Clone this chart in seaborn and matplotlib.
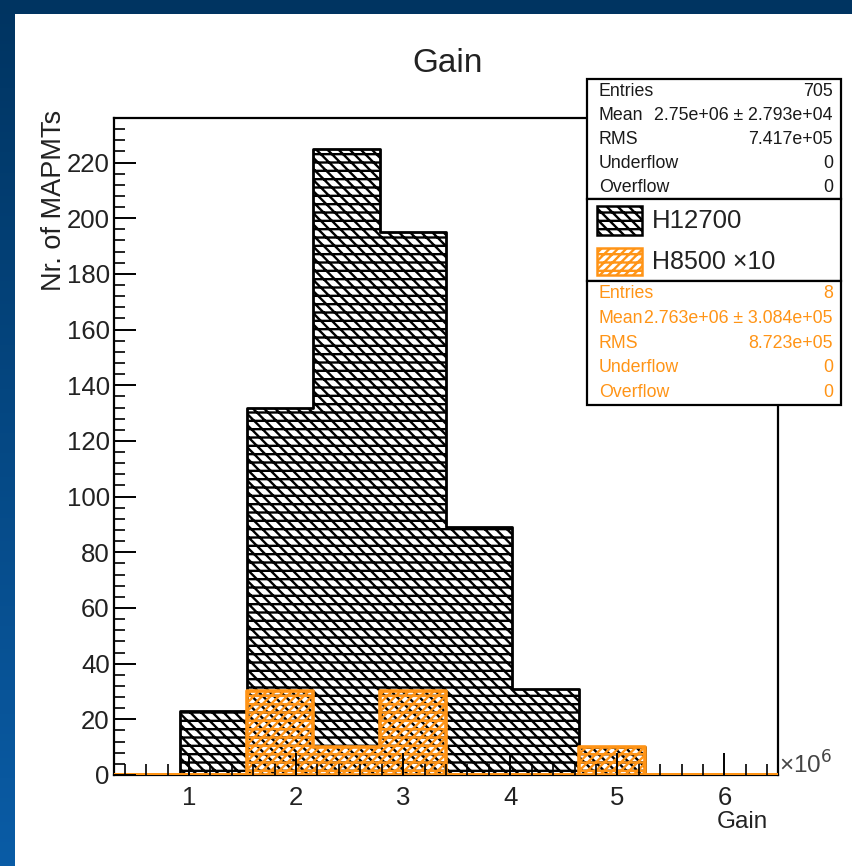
import numpy as np
import pandas as pd
import seaborn as sns
import matplotlib.pyplot as plt
from matplotlib.patches import Rectangle
from matplotlib.ticker import MultipleLocator
from matplotlib.colors import LinearSegmentedColormap

# ---- data (gain in units of 10^6) ----
bin_edges = [0.30, 0.92, 1.54, 2.16, 2.78, 3.40, 4.02, 4.64, 5.26, 5.88, 6.50]
h12700_counts = [0, 23, 132, 225, 195, 89, 31, 10, 0, 0]
h8500_counts = [0, 0, 3, 1, 3, 0, 0, 1, 0, 0]
h8500_scale = 10

y_ticks = [0, 20, 40, 60, 80, 100, 120, 140, 160, 180, 200, 220]
x_ticks = [1, 2, 3, 4, 5, 6]

h12700_stats = [("Entries", None), ("Mean", "2.75e+06 \u00b1 2.793e+04"),
                ("RMS", "7.417e+05"), ("Underflow", "0"), ("Overflow", "0")]
h8500_stats = [("Entries", None), ("Mean", "2.763e+06 \u00b1 3.084e+05"),
               ("RMS", "8.723e+05"), ("Underflow", "0"), ("Overflow", "0")]

ORANGE = "#ff9416"
BLACK_HATCH = r"\\\--"
ORANGE_HATCH = r"////--"

sns.set_style("ticks")
plt.rcParams["font.family"] = ["Liberation Sans", "DejaVu Sans"]
plt.rcParams["hatch.linewidth"] = 1.7
plt.rcParams["xtick.minor.visible"] = True
plt.rcParams["ytick.minor.visible"] = True

centers = [(a + b) / 2 for a, b in zip(bin_edges[:-1], bin_edges[1:])]
df = pd.DataFrame({
    "gain": centers + centers,
    "count": h12700_counts + [c * h8500_scale for c in h8500_counts],
    "tube": ["H12700"] * len(centers) + ["H8500"] * len(centers),
})

W, H = 852, 866
fig = plt.figure(figsize=(W / 100, H / 100), dpi=100)

# blue slide background with white canvas
bg = fig.add_axes([0, 0, 1, 1], zorder=0)
grad = np.linspace(0, 1, 256).reshape(-1, 1)
cmap = LinearSegmentedColormap.from_list("slide", ["#003461", "#0a5ca6"])
bg.imshow(grad, aspect="auto", cmap=cmap, extent=[0, W, H, 0])
bg.add_patch(Rectangle((15, 14), W - 15, H - 14, facecolor="white", edgecolor="none"))
bg.set_xlim(0, W)
bg.set_ylim(H, 0)
bg.axis("off")

# main histogram frame
L, R, T, B = 114, 778, 118, 775
ax = fig.add_axes([L / W, 1 - B / H, (R - L) / W, (B - T) / H], zorder=2)
ax.set_facecolor("none")


def hatched_hist(sub, color, lw, hatch, z):
    n_before = len(ax.collections)
    sns.histplot(data=sub, x="gain", weights="count", bins=bin_edges,
                 element="step", fill=True, color=color, ax=ax)
    for coll in ax.collections[n_before:]:
        coll.set_facecolor("none")
        coll.set_edgecolor(color)
        coll.set_linewidth(lw)
        coll.set_hatch(hatch)
        coll.set_zorder(z)


hatched_hist(df[df.tube == "H12700"], "black", 2.0, BLACK_HATCH, 2)
hatched_hist(df[df.tube == "H8500"], ORANGE, 2.6, ORANGE_HATCH, 3)

ax.set_xlim(bin_edges[0], bin_edges[-1])
ax.set_ylim(0, 236)
ax.set_xticks(x_ticks)
ax.set_yticks(y_ticks)
ax.xaxis.set_minor_locator(MultipleLocator(0.2))
ax.yaxis.set_minor_locator(MultipleLocator(4))
ax.tick_params(which="both", direction="in", top=False, right=False, bottom=True, left=True,
               color="black")
ax.tick_params(which="major", length=16, width=1.4, labelsize=18.5, labelcolor="#222222")
ax.tick_params(which="minor", length=8, width=1.2)
ax.tick_params(axis="x", which="major", pad=8)
ax.tick_params(axis="y", which="major", pad=3)
ax.xaxis.set_zorder(6)
ax.yaxis.set_zorder(6)
ax.set_xlabel("")
ax.set_ylabel("")
for s in ax.spines.values():
    s.set_linewidth(1.6)
    s.set_color("black")
    s.set_visible(True)

# title and axis labels
fig.text(448 / W, 1 - 64 / H, "Gain", ha="center", va="center", fontsize=24, color="#222222")
fig.text(54 / W, 1 - 110 / H, "Nr. of MAPMTs", rotation=90, ha="center", va="top",
         fontsize=19.5, color="#222222")
fig.text(768 / W, 1 - 822 / H, "Gain", ha="right", va="center", fontsize=17.5, color="#222222")
fig.text(779 / W, 1 - 765 / H, "\u00d710$^6$", ha="left", va="center", fontsize=17.5,
         color="#444444")

# statistics boxes and legend (pixel coordinates)
ov = fig.add_axes([0, 0, 1, 1], zorder=5)
ov.set_xlim(0, W)
ov.set_ylim(H, 0)
ov.axis("off")

bx0, bx1 = 587, 841


def stats_box(y0, y1, rows, color, entries):
    ov.add_patch(Rectangle((bx0, y0), bx1 - bx0, y1 - y0, facecolor="white",
                           edgecolor="black", linewidth=1.6))
    step = (y1 - y0) / len(rows)
    for i, (name, val) in enumerate(rows):
        yy = y0 + step * (i + 0.5)
        if val is None:
            val = str(entries)
        ov.text(bx0 + 12, yy, name, ha="left", va="center", fontsize=12.8, color=color)
        ov.text(bx1 - 8, yy, val, ha="right", va="center", fontsize=12.8, color=color)


stats_box(79, 199, h12700_stats, "#1a1a1a", sum(h12700_counts))

ov.add_patch(Rectangle((bx0, 199), bx1 - bx0, 82, facecolor="white",
                       edgecolor="black", linewidth=1.6))
ov.add_patch(Rectangle((597, 206), 45, 29, facecolor="white", edgecolor="black",
                       linewidth=1.8, hatch=BLACK_HATCH))
ov.add_patch(Rectangle((597, 248), 45, 27, facecolor="white", edgecolor=ORANGE,
                       linewidth=1.8, hatch=ORANGE_HATCH))
ov.text(652, 221, "H12700", ha="left", va="center", fontsize=18.5, color="#222222")
ov.text(652, 262, "H8500 \u00d710", ha="left", va="center", fontsize=18, color="#222222")

stats_box(281, 405, h8500_stats, ORANGE, sum(h8500_counts))

fig.savefig("out.png", dpi=100)
